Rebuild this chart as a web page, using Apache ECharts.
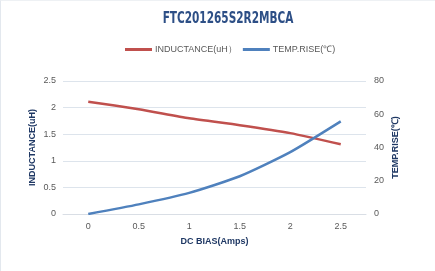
<!DOCTYPE html>
<html>
<head>
<meta charset="utf-8">
<style>
  html, body { margin: 0; padding: 0; background: #fff; }
  #chart { width: 435px; height: 271px; box-sizing: border-box; border-left: 1px solid #e3e8ee; border-top: 1px solid #eef1f4; }
</style>
<script src="https://cdn.jsdelivr.net/npm/echarts@6/dist/echarts.min.js"></script>
</head>
<body>
<div id="chart"></div>
<script>
// 数据
var categories = ['0', '0.5', '1', '1.5', '2', '2.5']
var inductance = [2.11, 1.97, 1.80, 1.67, 1.52, 1.31]
var tempRise = [0, 5.8, 12.7, 22.7, 37.2, 55.7]
var titleText = 'FTC201265S2R2MBCA'

var chart = echarts.init(document.getElementById('chart'))
var labelColor = '#595959'
var nameColor = '#1f3864'

chart.setOption({
  animation: false,
  // 标题用窄字体，横向压缩
  graphic: [
    {
      type: 'text',
      x: 227,
      y: 11,
      scaleX: 0.78,
      style: {
        text: titleText,
        fill: '#2d4f86',
        font: 'bold 15px "DejaVu Sans Condensed", sans-serif',
        align: 'center',
        verticalAlign: 'top'
      }
    }
  ],
  legend: {
    data: ['INDUCTANCE(uH）', 'TEMP.RISE(℃)'],
    top: 39,
    left: 119,
    itemWidth: 27,
    itemHeight: 3,
    itemGap: 6,
    icon: 'rect',
    textStyle: { color: labelColor, fontSize: 9, fontFamily: 'Liberation Sans', padding: [0, 0, 0, -2] }
  },
  grid: {
    left: 62,
    right: 69,
    top: 80,
    bottom: 57
  },
  xAxis: {
    type: 'category',
    data: categories,
    name: 'DC BIAS(Amps)',
    nameLocation: 'middle',
    nameGap: 23,
    nameTextStyle: { color: nameColor, fontSize: 9, fontWeight: 'bold' },
    axisLine: { lineStyle: { color: '#d9dee5' } },
    axisTick: { lineStyle: { color: '#d9dee5' } },
    axisLabel: { color: labelColor, fontSize: 9, margin: 8 }
  },
  yAxis: [
    {
      type: 'value',
      min: 0,
      max: 2.5,
      interval: 0.5,
      name: 'INDUCTANCE(uH)',
      nameLocation: 'middle',
      nameGap: 26,
      nameMoveOverlap: false,
      nameTextStyle: { color: nameColor, fontSize: 9, fontWeight: 'bold' },
      axisLine: { show: false },
      axisTick: { show: false },
      axisLabel: { color: labelColor, fontSize: 9, margin: 7 },
      splitLine: { lineStyle: { color: '#dde4ec' } }
    },
    {
      type: 'value',
      min: 0,
      max: 80,
      interval: 20,
      name: 'TEMP.RISE(℃)',
      nameLocation: 'middle',
      nameGap: 25,
      nameMoveOverlap: false,
      nameTextStyle: { color: nameColor, fontSize: 9, fontWeight: 'bold' },
      axisLine: { show: false },
      axisTick: { show: false },
      axisLabel: { color: labelColor, fontSize: 9, margin: 8 },
      splitLine: { show: false }
    }
  ],
  series: [
    {
      name: 'INDUCTANCE(uH）',
      type: 'line',
      data: inductance,
      smooth: 0.2,
      symbol: 'none',
      itemStyle: { color: '#c0504d' },
      lineStyle: { color: '#c0504d', width: 2.5 }
    },
    {
      name: 'TEMP.RISE(℃)',
      type: 'line',
      yAxisIndex: 1,
      data: tempRise,
      smooth: 0.2,
      symbol: 'none',
      itemStyle: { color: '#4f81bd' },
      lineStyle: { color: '#4f81bd', width: 2.5 }
    }
  ]
})
</script>
</body>
</html>
